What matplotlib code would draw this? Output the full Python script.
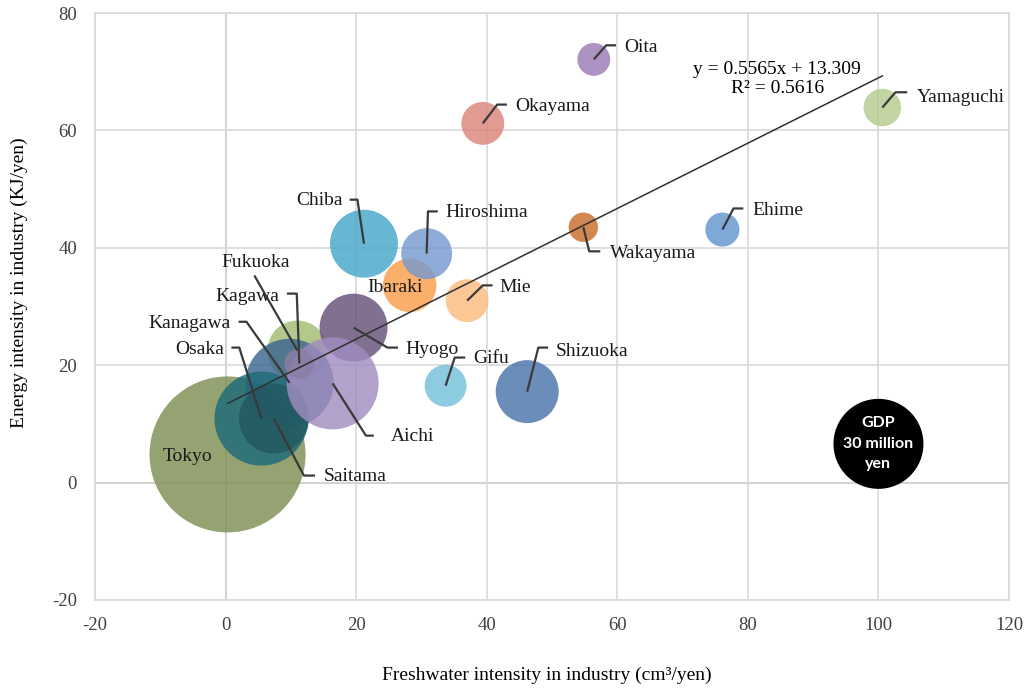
import numpy as np
import matplotlib
matplotlib.use("Agg")
import matplotlib.pyplot as plt

# prefecture data: freshwater intensity (cm3/yen), energy intensity (KJ/yen), GDP (million yen)
# listed in drawing order
prefectures = ["Tokyo", "Fukuoka", "Kanagawa", "Osaka", "Saitama", "Hyogo", "Aichi",
               "Kagawa", "Chiba", "Shizuoka", "Ibaraki", "Hiroshima", "Mie", "Okayama",
               "Gifu", "Yamaguchi", "Ehime", "Oita", "Wakayama"]
water = [0.3, 11.0, 9.8, 5.5, 7.4, 19.6, 16.4,
         11.3, 21.2, 46.2, 28.2, 30.8, 37.0, 39.4,
         33.7, 100.6, 76.1, 56.4, 54.8]
energy = [4.8, 22.5, 17.0, 10.9, 10.9, 26.4, 16.9,
          20.3, 40.7, 15.5, 33.6, 39.0, 31.0, 61.2,
          16.5, 63.9, 43.1, 72.1, 43.5]
gdp = [90.1, 13.3, 28.7, 32.7, 18.1, 17.1, 31.3,
       3.3, 17.1, 14.7, 10.6, 9.6, 6.8, 6.8,
       6.5, 5.2, 4.3, 4.0, 3.2]
colors = ["#7E8E53", "#A2BC72", "#3B6690", "#1E6B78", "#24575F", "#655078", "#A08CC0",
          "#8A7EA4", "#47A8C8", "#4A74AA", "#F99E4A", "#7799CF", "#FBBB7E", "#DC857A",
          "#74C0DA", "#B5CB8C", "#6296CD", "#9A7CB8", "#C86C2A"]

slope, intercept, r2 = 0.5565, 13.309, 0.5616
legend_gdp = 30

# label placement: text pos, alignment, leader elbow, leader end
labels = {
    "Oita": ((61.0, 74.1), "left", (58.3, 74.5), (59.8, 74.5)),
    "Okayama": ((44.3, 64.1), "left", (41.6, 64.4), (43.1, 64.4)),
    "Yamaguchi": ((105.8, 65.6), "left", (102.6, 66.5), (104.4, 66.5)),
    "Chiba": ((17.9, 48.1), "right", (20.2, 48.2), (19.0, 48.2)),
    "Hiroshima": ((33.7, 46.0), "left", (31.0, 46.2), (32.5, 46.2)),
    "Ehime": ((80.7, 46.4), "left", (77.8, 46.7), (79.3, 46.7)),
    "Wakayama": ((58.9, 39.0), "left", (55.7, 39.4), (57.4, 39.4)),
    "Mie": ((42.0, 33.2), "left", (39.4, 33.6), (40.9, 33.6)),
    "Ibaraki": ((25.9, 33.2), "center", None, None),
    "Fukuoka": ((4.6, 37.5), "center", (4.4, 35.3), (4.4, 35.3)),
    "Kagawa": ((8.3, 31.7), "right", (10.9, 32.2), (9.4, 32.2)),
    "Kanagawa": ((0.8, 27.1), "right", (3.2, 27.4), (2.0, 27.4)),
    "Osaka": ((-0.2, 22.7), "right", (2.1, 23.0), (0.9, 23.0)),
    "Tokyo": ((-5.8, 4.4), "center", None, None),
    "Saitama": ((15.0, 1.0), "left", (12.0, 1.2), (13.7, 1.2)),
    "Aichi": ((25.3, 7.8), "left", (21.5, 8.0), (22.7, 8.0)),
    "Hyogo": ((27.5, 22.7), "left", (24.8, 23.0), (26.4, 23.0)),
    "Gifu": ((38.0, 21.1), "left", (35.1, 21.3), (36.7, 21.3)),
    "Shizuoka": ((50.6, 22.3), "left", (47.9, 23.0), (49.4, 23.0)),
}

plt.rcParams["font.family"] = ["Liberation Serif", "DejaVu Serif"]
plt.rcParams["axes.unicode_minus"] = False
SCALE = 140  # marker area (pt^2) per million yen

fig, ax = plt.subplots(figsize=(10.27, 6.89), dpi=100)
fig.subplots_adjust(left=0.0925, right=0.9825, top=0.9811, bottom=0.1292)

ax.set_xlim(-20, 120); ax.set_ylim(-20, 80)
ax.set_xticks(np.arange(-20, 121, 20)); ax.set_yticks(np.arange(-20, 81, 20))
ax.grid(True, color="#D9D9D9", linewidth=1.2)
ax.axvline(0, color="#BFBFBF", linewidth=1.5, zorder=0.5)
ax.axhline(0, color="#BFBFBF", linewidth=1.5, zorder=0.5)
ax.set_axisbelow(True)
for s in ax.spines.values():
    s.set_color("#D9D9D9"); s.set_linewidth(1.2)
ax.tick_params(axis="x", length=0, labelsize=13.5, colors="#404040", pad=12)
ax.tick_params(axis="y", length=0, labelsize=13.5, colors="#404040", pad=13)

for i in range(len(prefectures)):
    ax.scatter(water[i], energy[i], s=gdp[i] * SCALE, color=colors[i],
               alpha=0.82, edgecolors="none", zorder=2)

# trend line over data range
xs = np.array([min(water), max(water)])
ax.plot(xs, slope * xs + intercept, color="#303030", linewidth=1.1, zorder=4)
ax.text(84.5, 68.8, f"y = {slope}x + {intercept}\nR² = {r2}", ha="center", va="center",
        fontsize=14, linespacing=1.15, zorder=5)

for name, (tpos, ha, elbow, end) in labels.items():
    i = prefectures.index(name)
    if elbow is not None:
        ax.plot([water[i], elbow[0], end[0]], [energy[i], elbow[1], end[1]],
                color="#3A3A3A", linewidth=1.6, zorder=5, solid_capstyle="butt")
    ax.text(tpos[0], tpos[1], name, ha=ha, va="center", fontsize=14, color="#1A1A1A", zorder=6)

# size reference bubble
ax.scatter(100, 6.6, s=legend_gdp * SCALE, color="black", edgecolors="none", zorder=3)
ax.text(100, 6.6, f"GDP\n{legend_gdp} million\nyen", ha="center", va="center", color="white",
        fontsize=11.5, fontweight="bold", family=["Lato", "DejaVu Sans"], linespacing=1.6, zorder=4)

fig.text(0.5326, 0.020, "Freshwater intensity in industry (cm³/yen)", ha="center", va="center",
         fontsize=14)
fig.text(0.019, 0.59, "Energy intensity in industry (KJ/yen)", ha="center", va="center",
         rotation=90, fontsize=14)

fig.savefig("out.png")
